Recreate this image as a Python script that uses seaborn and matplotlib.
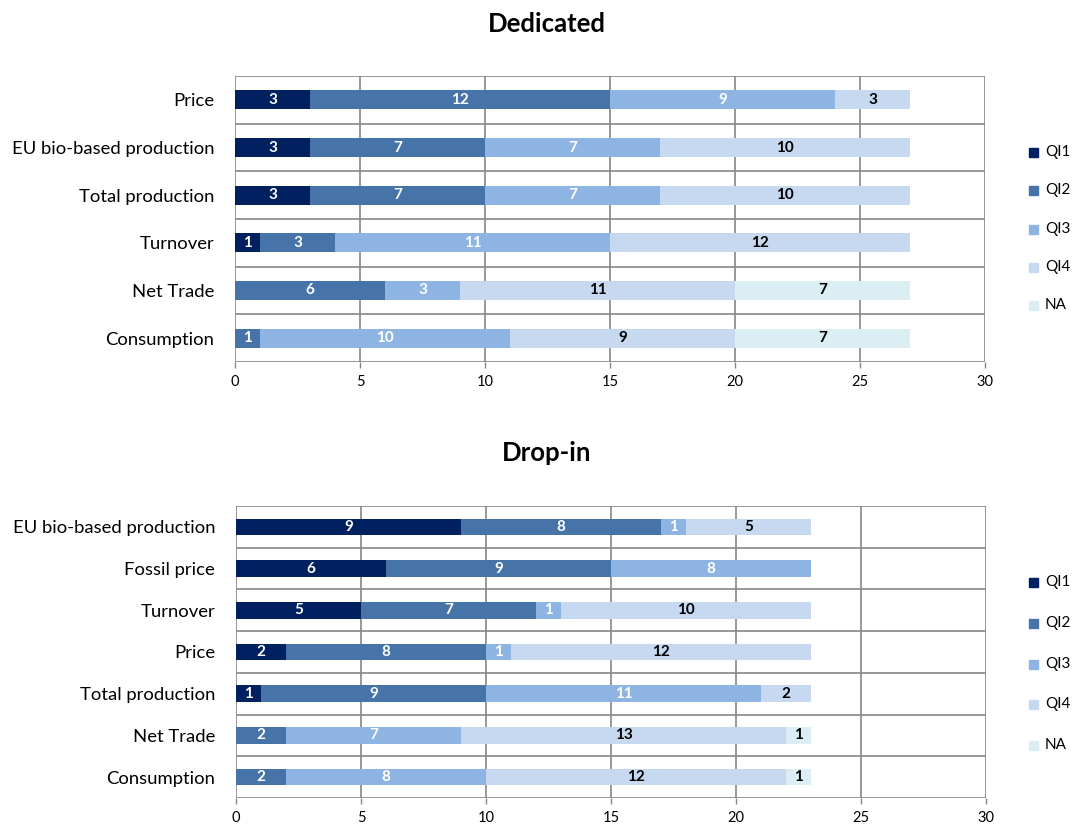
import numpy as np
import pandas as pd
import matplotlib
matplotlib.use("Agg")
import matplotlib.pyplot as plt
import seaborn as sns

sns.set_theme(style="white")
plt.rcParams['font.family'] = ['Lato', 'DejaVu Sans']
plt.rcParams['text.color'] = 'black'
plt.rcParams['xtick.color'] = 'black'
plt.rcParams['ytick.color'] = 'black'

series = ["QI1", "QI2", "QI3", "QI4", "NA"]
colors = ["#002060", "#4673A8", "#8EB4E3", "#C6D9F1", "#DBEEF4"]
label_colors = ["white", "white", "white", "black", "black"]

ded_cats = ["Price", "EU bio-based production", "Total production", "Turnover", "Net Trade", "Consumption"]
ded_qi1 = [3, 3, 3, 1, 0, 0]
ded_qi2 = [12, 7, 7, 3, 6, 1]
ded_qi3 = [9, 7, 7, 11, 3, 10]
ded_qi4 = [3, 10, 10, 12, 11, 9]
ded_na = [0, 0, 0, 0, 7, 7]

drop_cats = ["EU bio-based production", "Fossil price", "Turnover", "Price", "Total production", "Net Trade", "Consumption"]
drop_qi1 = [9, 6, 5, 2, 1, 0, 0]
drop_qi2 = [8, 9, 7, 8, 9, 2, 2]
drop_qi3 = [1, 8, 1, 1, 11, 7, 8]
drop_qi4 = [5, 0, 10, 12, 2, 13, 12]
drop_na = [0, 0, 0, 0, 0, 1, 1]

xticks = [0, 5, 10, 15, 20, 25, 30]

fig = plt.figure(figsize=(10.72, 8.26), dpi=100)
W, H = 1072, 826

def draw(ax, cats, vals, title, title_y, legend_ys):
    vals = np.array(vals, dtype=float)
    cum = np.cumsum(vals, axis=0)
    n = len(cats)
    for i in range(len(series) - 1, -1, -1):
        df = pd.DataFrame({"cat": cats, "x": cum[i]})
        sns.barplot(data=df, y="cat", x="x", order=cats, orient="h", color=colors[i],
                    saturation=1, width=0.4, ax=ax, linewidth=0, zorder=3)
    for i in range(len(series)):
        left = cum[i] - vals[i]
        for j in range(n):
            v = vals[i][j]
            if v > 0:
                ax.text(left[j] + v / 2, j, f"{int(v)}", ha="center", va="center",
                        color=label_colors[i], fontsize=11, fontweight="bold", zorder=5)
    ax.set_xlim(0, 30)
    ax.set_ylim(n - 0.5, -0.5)
    ax.set_xticks(xticks)
    ax.set_xticklabels([str(t) for t in xticks], fontsize=10.5)
    ax.tick_params(axis="y", labelsize=13.3, length=0, pad=15)
    ax.tick_params(axis="x", length=4, color="#868686", width=1, pad=5, bottom=True)
    ax.set_xlabel("")
    ax.set_ylabel("")
    for xv in xticks:
        ax.axvline(xv, color="#868686", lw=1.2, zorder=1)
    for k in range(n + 1):
        ax.axhline(k - 0.5, color="#868686", lw=1.2, zorder=1)
    for s in ax.spines.values():
        s.set_visible(False)
    fig.text(547 / W, 1 - title_y / H, title, ha="center", va="center",
             fontsize=18.5, fontweight="bold")
    for i, s in enumerate(series):
        y = 1 - legend_ys[i] / H
        fig.patches.append(plt.Rectangle((1034 / W - 0.0045, y - 0.0058), 0.0085, 0.011,
                                         transform=fig.transFigure, color=colors[i], figure=fig))
        fig.text(1045 / W, y, s, ha="left", va="center", fontsize=11)

ax1 = fig.add_axes([235 / W, 1 - 362 / H, 750 / W, 286 / H])
draw(ax1, ded_cats, [ded_qi1, ded_qi2, ded_qi3, ded_qi4, ded_na], "Dedicated", 24,
     [152, 190, 229, 267, 305])

ax2 = fig.add_axes([236 / W, 1 - 798 / H, 750 / W, 292 / H])
draw(ax2, drop_cats, [drop_qi1, drop_qi2, drop_qi3, drop_qi4, drop_na], "Drop-in", 453,
     [582, 623, 664, 704, 745])

fig.savefig("out.png", dpi=100)
